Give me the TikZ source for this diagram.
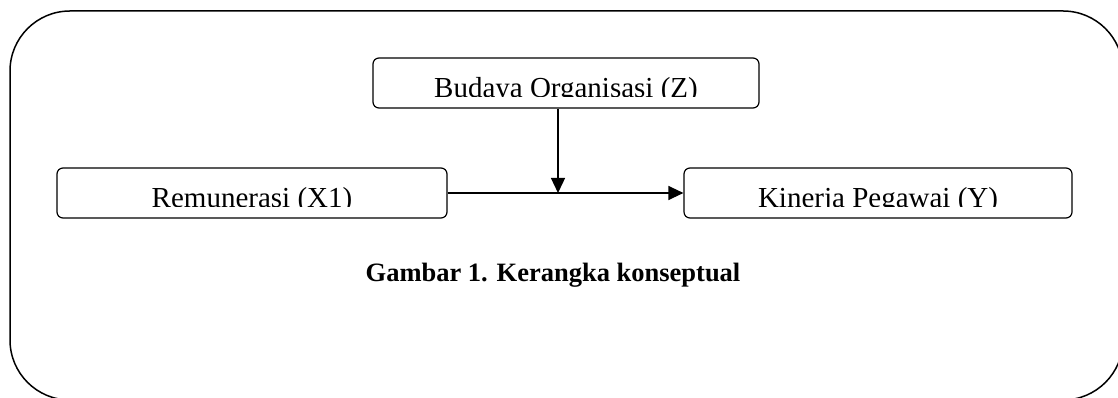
\documentclass[tikz,border=0pt]{standalone}
\usepackage{fontspec}
\setmainfont{Liberation Serif}
\usepackage{tikz}
\usetikzlibrary{arrows.meta}

\begin{document}
\begin{tikzpicture}[x=1pt,y=1pt]
  \tikzset{varbox/.style = {shape=rectangle,draw,rounded corners=6pt,line width=1.2pt,minimum width=#1,minimum height=50pt,inner sep=0pt}}
  \tikzset{vartext/.style = {anchor=base,inner sep=0pt,font=\fontsize{29}{32}\selectfont}}
  \tikzset{%
  tipK/.tip={Triangle[length=15pt,width=14pt]},
}
  \tikzset{edge/.style = {-tipK,line width=1.3pt}}

	\useasboundingbox (0,0) rectangle (1118,398);
	\begin{scope}
	\clip (0,0) rectangle (1118,398);
	\draw[line width=1.5pt,rounded corners=60pt] (10,387) rectangle (1123,-2);
	\end{scope}

	\node[varbox=386pt] (BO) at (566,315) {};
	\node[varbox=390pt] (RM) at (252,205) {};
	\node[varbox=388pt] (KP) at (878,205) {};

	% text sits low in each box and is cut off at the bottom
	\foreach \n/\t in {BO/Budaya Organisasi (Z), RM/Remunerasi (X1), KP/Kinerja Pegawai (Y)}{
	  \begin{scope}
	  \clip ([yshift=12pt]\n.south west) rectangle (\n.north east);
	  \node[vartext] (\n-txt) at ([yshift=-14.5pt]\n.center) {\t};
	  \end{scope}
	}

	\coordinate (J) at (558,205);

	\path[edge] (RM) edge (KP);
	\draw[edge] (BO.south -| J) -- (J);

	\node[anchor=base,font=\bfseries\fontsize{26.5}{30}\selectfont] (cap) at (553,116) {Gambar 1. Kerangka konseptual};

\end{tikzpicture}
\end{document}
